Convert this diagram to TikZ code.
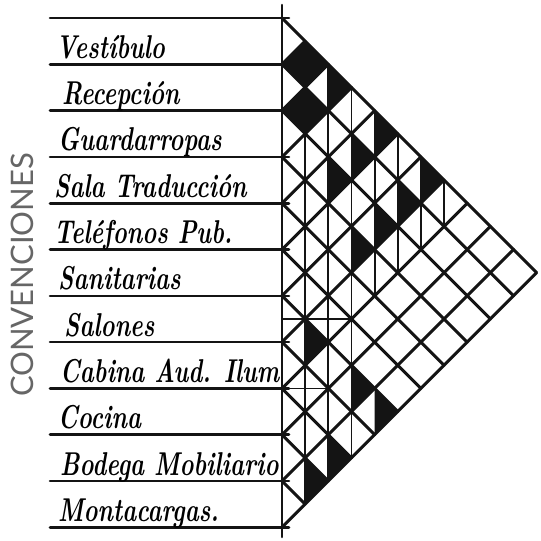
\documentclass[tikz,border=0pt]{standalone}
\usepackage{fontspec}
\newfontfamily\convfont{Lato}
\newcommand{\narrowtxt}[1]{\scalebox{0.72}[1]{#1}}
\begin{document}
\begin{tikzpicture}[x=1pt,y=-1pt,line cap=round,line join=round,
  gridline/.style={line width=3pt,black!92},
  rowline/.style={line width=2.6pt,black!92},
  halfline/.style={line width=1.8pt,black!92},
  cellfill/.style={fill=black!92},
  lbl/.style={anchor=base west,inner sep=0pt,font=\bfseries\itshape\fontsize{33}{33}\selectfont},
  conv/.style={rotate=90,inner sep=0pt,text=black!60,font=\convfont\fontsize{31}{31}\selectfont}]
\useasboundingbox (0,0) rectangle (541,541);
\def\xo{282}\def\yo{18}\def\h{46.3}
% black cells
\foreach \i/\j in {0/1,1/2}{
  \pgfmathsetmacro\cx{\xo+(\j-\i)*\h/2}
  \pgfmathsetmacro\cy{\yo+(\i+\j+1)*\h/2}
  \fill[cellfill] (\cx,\cy-\h/2) -- (\cx+\h/2,\cy) -- (\cx,\cy+\h/2) -- (\cx-\h/2,\cy) -- cycle;
}
\foreach \i/\j in {0/2,0/4,1/4,2/4,0/6,1/6,2/6,3/6,6/7,6/9,6/10,8/10,9/10}{
  \pgfmathsetmacro\cx{\xo+(\j-\i)*\h/2}
  \pgfmathsetmacro\cy{\yo+(\i+\j+1)*\h/2}
  \fill[cellfill] (\cx,\cy-\h/2) -- (\cx+\h/2,\cy) -- (\cx,\cy+\h/2) -- cycle;
}
% vertical half lines per column: d / last row m
\foreach \d/\m in {1/9,2/8,3/7,4/3,5/2,6/1,7/0}{
  \draw[halfline] (\xo+\d*\h/2,\yo+\d*\h/2) -- (\xo+\d*\h/2,\yo+\m*\h+\d*\h/2+\h);
}
% horizontal half lines
\draw[halfline] (\xo,\yo+6.5*\h) -- (\xo+1.5*\h,\yo+6.5*\h);
\draw[halfline] (\xo,\yo+8*\h) -- (\xo+\h,\yo+8*\h);
% diagonal grid
\foreach \k in {0,...,11}{
  \draw[gridline] (\xo,\yo+\k*\h) -- ++({(11-\k)*\h/2},{(11-\k)*\h/2});
  \draw[gridline] (\xo,\yo+\k*\h) -- ++({\k*\h/2},{-\k*\h/2});
}
% row lines and main vertical
\foreach \k in {0,...,11}{
  \draw[rowline] (50,\yo+\k*\h) -- (289,\yo+\k*\h);
}
\draw[rowline] (\xo,5) -- (\xo,537);
% labels
\begin{scope}
\clip (0,0) rectangle (279,541);
\node[lbl] (l0) at (56,\yo+1*\h-6) {\narrowtxt{Vestíbulo}};
\node[lbl] (l1) at (62,\yo+2*\h-6) {\narrowtxt{Recepción}};
\node[lbl] (l2) at (58,\yo+3*\h-6) {\narrowtxt{Guardarropas}};
\node[lbl] (l3) at (54,\yo+4*\h-6) {\narrowtxt{Sala Traducción}};
\node[lbl] (l4) at (54,\yo+5*\h-6) {\narrowtxt{Teléfonos Pub.}};
\node[lbl] (l5) at (58,\yo+6*\h-6) {\narrowtxt{Sanitarias}};
\node[lbl] (l6) at (64,\yo+7*\h-6) {\narrowtxt{Salones}};
\node[lbl] (l7) at (60,\yo+8*\h-6) {\narrowtxt{Cabina Aud. Ilum}};
\node[lbl] (l8) at (58,\yo+9*\h-6) {\narrowtxt{Cocina}};
\node[lbl] (l9) at (60,\yo+10*\h-6) {\narrowtxt{Bodega Mobiliario}};
\node[lbl] (l10) at (58,\yo+11*\h-6) {\narrowtxt{Montacargas.}};
\end{scope}
\node[conv] (conv) at (22,275) {CONVENCIONES};
\end{tikzpicture}
\end{document}
